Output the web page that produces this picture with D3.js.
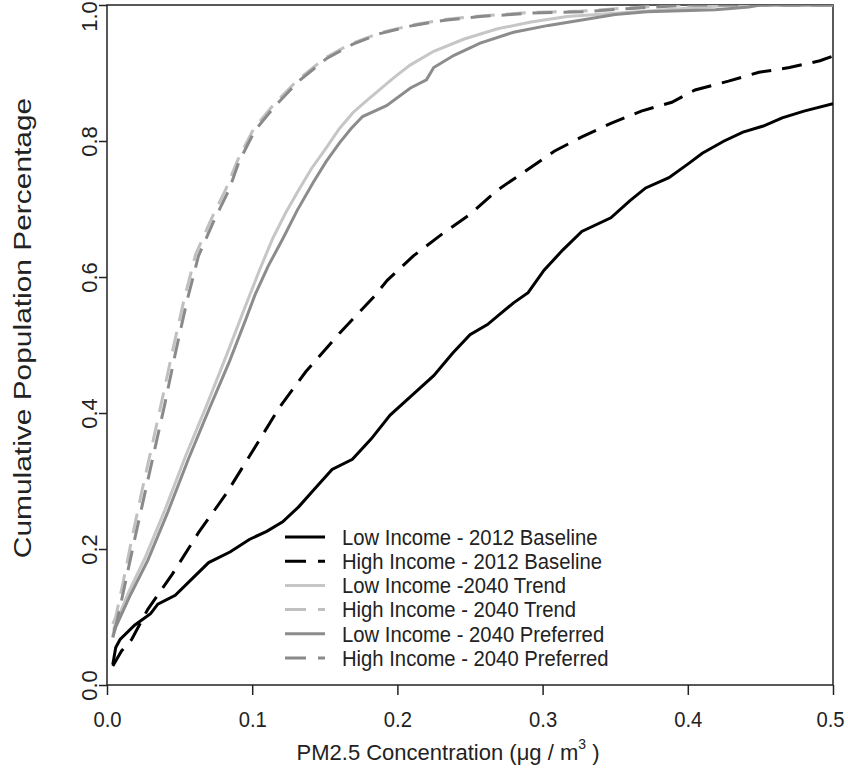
<!DOCTYPE html>
<html>
<head>
<script src="https://d3js.org/d3.v7.min.js"></script>
<style>
  body { margin: 0; background: #fff; }
  svg text { font-family: "Liberation Sans", Arial, sans-serif; fill: #222; }
  .axis path.domain { display: none; }
  .axis line { stroke: #222; stroke-width: 1.5; }
</style>
</head>
<body>
<svg width="848" height="770"></svg>
<script>
// ECDF curves: [concentration, cumulative share]
var lowBase = [[0.004,0.03],[0.006,0.055],[0.009,0.067],[0.019,0.088],[0.030,0.105],[0.035,0.119],[0.047,0.132],
  [0.058,0.155],[0.070,0.180],[0.085,0.196],[0.098,0.214],[0.110,0.226],[0.121,0.240],[0.132,0.262],[0.142,0.286],
  [0.155,0.317],[0.169,0.332],[0.182,0.362],[0.195,0.397],[0.210,0.426],[0.225,0.455],[0.238,0.488],[0.250,0.515],
  [0.262,0.530],[0.271,0.546],[0.280,0.562],[0.290,0.577],[0.301,0.610],[0.314,0.640],[0.327,0.667],[0.347,0.687],
  [0.360,0.712],[0.371,0.731],[0.387,0.746],[0.400,0.766],[0.410,0.782],[0.425,0.800],[0.438,0.813],[0.452,0.822],
  [0.465,0.834],[0.480,0.844],[0.500,0.855]];
var highBase = [[0.004,0.028],[0.010,0.050],[0.017,0.067],[0.028,0.111],[0.045,0.163],[0.063,0.224],[0.082,0.281],
  [0.100,0.343],[0.119,0.409],[0.137,0.461],[0.160,0.517],[0.183,0.569],[0.193,0.595],[0.211,0.631],[0.230,0.662],
  [0.250,0.692],[0.269,0.728],[0.287,0.754],[0.308,0.785],[0.327,0.806],[0.347,0.826],[0.368,0.844],[0.389,0.857],
  [0.405,0.875],[0.428,0.888],[0.449,0.901],[0.470,0.908],[0.491,0.918],[0.500,0.925]];
var lowTrend = [[0.004,0.07],[0.005,0.085],[0.0146,0.135],[0.026,0.186],[0.040,0.258],[0.054,0.336],[0.068,0.408],
  [0.0816,0.481],[0.0955,0.558],[0.105,0.610],[0.114,0.656],[0.123,0.694],[0.132,0.728],[0.141,0.760],[0.151,0.790],
  [0.160,0.818],[0.1695,0.842],[0.178,0.858],[0.188,0.876],[0.198,0.894],[0.209,0.912],[0.225,0.932],[0.246,0.950],
  [0.269,0.965],[0.292,0.975],[0.317,0.983],[0.350,0.988],[0.385,0.993],[0.430,1.0],[0.500,1.0]];
var highTrend = [[0.004,0.09],[0.006,0.10],[0.011,0.150],[0.017,0.214],[0.024,0.285],[0.031,0.352],[0.038,0.420],
  [0.045,0.490],[0.053,0.566],[0.061,0.633],[0.072,0.686],[0.082,0.730],[0.090,0.772],[0.101,0.818],[0.115,0.854],
  [0.131,0.889],[0.150,0.922],[0.168,0.943],[0.188,0.959],[0.211,0.971],[0.234,0.979],[0.257,0.984],[0.292,0.989],
  [0.327,0.991],[0.361,0.996],[0.395,1.0],[0.500,1.0]];
var lowPref = [[0.004,0.07],[0.006,0.085],[0.016,0.132],[0.028,0.183],[0.042,0.255],[0.056,0.332],[0.070,0.404],
  [0.084,0.474],[0.096,0.540],[0.102,0.574],[0.111,0.616],[0.121,0.656],[0.131,0.698],[0.142,0.739],[0.151,0.770],
  [0.160,0.797],[0.168,0.818],[0.176,0.836],[0.1925,0.852],[0.209,0.878],[0.220,0.890],[0.225,0.908],[0.239,0.926],
  [0.257,0.944],[0.280,0.960],[0.304,0.970],[0.327,0.978],[0.350,0.986],[0.372,0.990],[0.419,0.993],[0.442,0.997],
  [0.450,1.0],[0.500,1.0]];
var highPref = [[0.005,0.08],[0.0065,0.09],[0.0123,0.147],[0.019,0.214],[0.026,0.281],[0.033,0.348],[0.040,0.415],
  [0.047,0.487],[0.055,0.564],[0.063,0.631],[0.0735,0.682],[0.084,0.728],[0.091,0.770],[0.102,0.816],[0.116,0.852],
  [0.132,0.888],[0.151,0.921],[0.169,0.942],[0.188,0.958],[0.211,0.970],[0.234,0.978],[0.257,0.983],[0.292,0.988],
  [0.327,0.990],[0.361,0.995],[0.400,1.0],[0.500,1.0]];

var seriesNames = ["Low Income - 2012 Baseline", "High Income - 2012 Baseline", "Low Income -2040 Trend",
                   "High Income - 2040 Trend", "Low Income - 2040 Preferred", "High Income - 2040 Preferred"];
var seriesData = [lowBase, highBase, lowTrend, highTrend, lowPref, highPref];
var seriesColor = ["#000000", "#000000", "#c6c6c6", "#c0c0c0", "#8c8c8c", "#8a8a8a"];
var seriesDashed = [false, true, false, true, false, true];

var xTicks = [0, 0.1, 0.2, 0.3, 0.4, 0.5];
var yTicks = [0, 0.2, 0.4, 0.6, 0.8, 1.0];

var svg = d3.select("svg");
var plot = {left: 107, right: 833, top: 5, bottom: 685};

var x = d3.scaleLinear().domain([0, 0.5]).range([plot.left, plot.right]);
var y = d3.scaleLinear().domain([0, 1]).range([plot.bottom, plot.top]);

// the source picture is a bit stretched, so scale text along its run
function squeeze(sel, k) {
  sel.each(function() {
    var len = this.getComputedTextLength();
    d3.select(this).attr("textLength", len * k).attr("lengthAdjust", "spacingAndGlyphs");
  });
}

svg.append("clipPath").attr("id", "clip")
  .append("rect")
  .attr("x", plot.left).attr("y", plot.top)
  .attr("width", plot.right - plot.left).attr("height", plot.bottom - plot.top);

// box
svg.append("rect")
  .attr("x", plot.left).attr("y", plot.top)
  .attr("width", plot.right - plot.left).attr("height", plot.bottom - plot.top)
  .attr("fill", "none").attr("stroke", "#222").attr("stroke-width", 1.5);

// axes
var xAxis = svg.append("g").attr("class", "axis")
  .attr("transform", "translate(0," + plot.bottom + ")")
  .call(d3.axisBottom(x).tickValues(xTicks).tickSize(10).tickPadding(16).tickFormat(d3.format(".1f")));
xAxis.selectAll("text")
  .attr("font-size", 22)
  .attr("x", function(d) { return d === 0.5 ? -3 : 0; })   // keep last label on the page
  .call(squeeze, 0.92);

var yAxis = svg.append("g").attr("class", "axis")
  .attr("transform", "translate(" + plot.left + ",0)")
  .call(d3.axisLeft(y).tickValues(yTicks).tickSize(8).tickFormat(d3.format(".1f")));
yAxis.selectAll("text")
  .attr("x", null).attr("dy", null)
  .attr("text-anchor", "middle")
  .attr("font-size", 22)
  .attr("transform", function(d) {
    var shift = Math.max(0, 16 - y(d));   // keep the top label inside the page
    return "translate(-10," + shift + ") rotate(-90)";
  });

// curves
var line = d3.line().x(function(d) { return x(d[0]); }).y(function(d) { return y(d[1]); });

svg.append("g").attr("clip-path", "url(#clip)")
  .selectAll("path")
  .data(seriesData)
  .enter()
  .append("path")
  .attr("d", line)
  .attr("fill", "none")
  .attr("stroke", function(d, i) { return seriesColor[i]; })
  .attr("stroke-width", 3)
  .attr("stroke-dasharray", function(d, i) { return seriesDashed[i] ? "20,11" : null; });

// axis titles
var xt = svg.append("text")
  .attr("x", 448).attr("y", 760)
  .attr("text-anchor", "middle").attr("font-size", 22);
xt.append("tspan").text("PM2.5 Concentration (\u03bcg / m");
xt.append("tspan").attr("font-size", 14).attr("dy", -11).text("3");
xt.append("tspan").attr("dy", 11).text(" )");

svg.append("text")
  .attr("transform", "translate(31,328) rotate(-90)")
  .attr("text-anchor", "middle").attr("font-size", 23)
  .text("Cumulative Population Percentage")
  .call(squeeze, 1.3);

// legend
var legend = svg.append("g").selectAll("g")
  .data(seriesNames)
  .enter()
  .append("g")
  .attr("transform", function(d, i) { return "translate(285," + (537 + i * 24.2) + ")"; });

legend.append("line")
  .attr("x1", 0).attr("x2", 40)
  .attr("stroke", function(d, i) { return seriesColor[i]; })
  .attr("stroke-width", 3)
  .attr("stroke-dasharray", function(d, i) { return seriesDashed[i] ? "21,12" : null; });

legend.append("text")
  .attr("x", 57).attr("dy", "0.35em")
  .attr("font-size", 22)
  .text(function(d) { return d; })
  .call(squeeze, 0.92);
</script>
</body>
</html>
